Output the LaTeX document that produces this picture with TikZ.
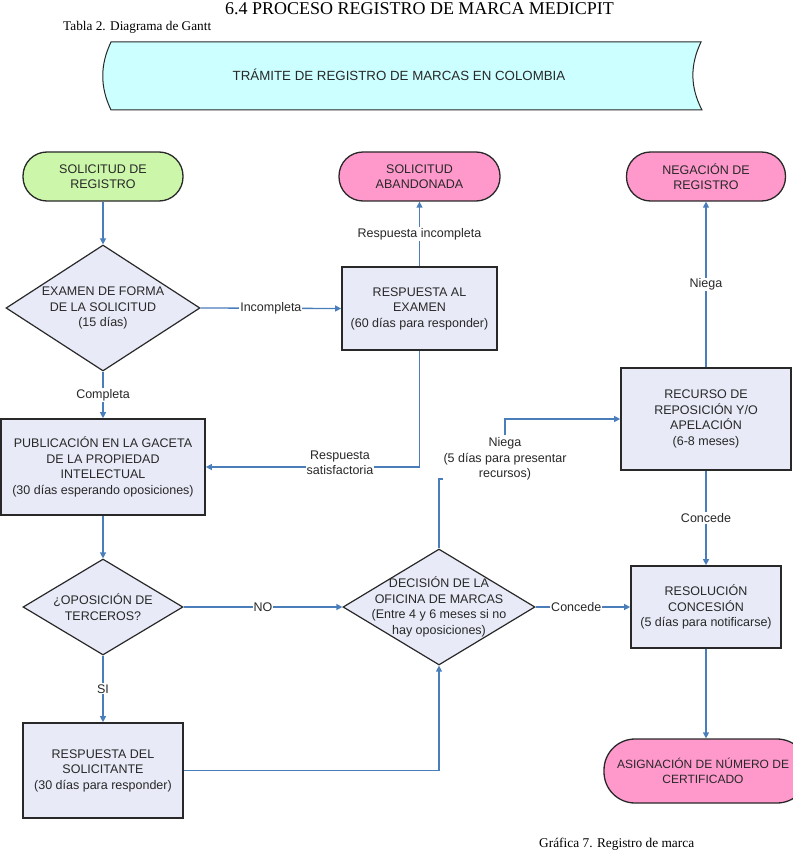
\documentclass[tikz,border=0pt]{standalone}
\usepackage{fontspec}
\setmainfont{Liberation Sans}
\newfontfamily\serifx{Liberation Serif}
\usetikzlibrary{shapes.geometric,arrows.meta}
\definecolor{linec}{RGB}{74,126,187}
\definecolor{bord}{RGB}{40,40,40}
\definecolor{boxc}{RGB}{232,235,247}
\definecolor{greenc}{RGB}{204,247,170}
\definecolor{pinkc}{RGB}{255,153,204}
\definecolor{bannerc}{RGB}{204,255,255}
\definecolor{txtc}{RGB}{40,40,40}
\begin{document}
\begin{tikzpicture}[x=1pt,y=-1pt,
  txt/.style={font=\fontsize{12.5}{15.5}\selectfont, text=txtc, align=center},
  term/.style={txt, draw=bord, line width=1.3pt, rounded corners=24pt, minimum width=160pt, minimum height=49pt, inner sep=0pt},
  boxn/.style={txt, draw=bord, line width=1.7pt, fill=boxc, inner sep=0pt},
  dia/.style={diamond, draw=bord, line width=1.2pt, fill=boxc, inner sep=0pt},
  conn/.style={draw=linec, line width=1.3pt},
  arr/.style={conn, -{Triangle[width=6pt,length=6pt]}},
  elbl/.style={txt, fill=white, inner sep=1pt}]
\useasboundingbox (0,0) rectangle (792,850);
% titles
\node[anchor=base, inner sep=0pt] (title) at (419.5,14.5) {\resizebox{389pt}{!}{\serifx\fontsize{18}{18}\selectfont 6.4 PROCESO REGISTRO DE MARCA MEDICPIT}};
\node[anchor=base west, inner sep=0pt] (tabla) at (63,31) {\resizebox{148pt}{!}{\serifx\fontsize{13}{13}\selectfont Tabla 2. Diagrama de Gantt}};
\node[anchor=base west, inner sep=0pt] (grafica) at (539,847) {\resizebox{155pt}{!}{\serifx\fontsize{13.4}{13.4}\selectfont Gráfica 7. Registro de marca}};
% banner
\path[draw=bord, fill=bannerc, line width=1pt] (111,42) -- (701,42) .. controls (690,65) and (690,87) .. (702,110) -- (111,110) .. controls (100,87) and (100,65) .. (111,42) -- cycle;
\node[txt, font=\fontsize{13.3}{15}\selectfont] (banner) at (399,75) {TRÁMITE DE REGISTRO DE MARCAS EN COLOMBIA};
% terminals
\node[term, fill=greenc] (sr) at (103,176.5) {SOLICITUD DE\\REGISTRO};
\node[term, fill=pinkc, minimum width=161pt] (sa) at (419.5,176.5) {SOLICITUD\\ABANDONADA};
\node[term, fill=pinkc, minimum width=159pt] (nr) at (706,176.5) {NEGACIÓN DE\\REGISTRO};
\node[term, fill=pinkc, minimum width=204pt, minimum height=64pt, rounded corners=31pt] (asg) at (706,771) {};
\node[txt, font=\fontsize{12}{15.5}\selectfont] (asgt) at (703,771) {ASIGNACIÓN DE NÚMERO DE\\CERTIFICADO};
% diamonds
\node[dia, minimum width=194pt, minimum height=126pt] (ex) at (103,308) {};
\node[txt] (ext) at (ex.center) {EXAMEN DE FORMA\\DE LA SOLICITUD\\(15 días)};
\node[dia, minimum width=160pt, minimum height=96pt] (op) at (103,607) {};
\node[txt] (opt) at (op.center) {¿OPOSICIÓN DE\\TERCEROS?};
\node[dia, minimum width=192pt, minimum height=116pt] (dec) at (439,607) {};
\node[txt] (dect) at (dec.center) {DECISIÓN DE LA\\OFICINA DE MARCAS\\(Entre 4 y 6 meses si no\\hay oposiciones)};
% boxes
\node[boxn, minimum width=155pt, minimum height=83pt] (rae) at (419.5,308.5) {RESPUESTA AL\\EXAMEN\\(60 días para responder)};
\node[boxn, minimum width=204pt, minimum height=96pt] (pub) at (103,467) {PUBLICACIÓN EN LA GACETA\\DE LA PROPIEDAD\\INTELECTUAL\\(30 días esperando oposiciones)};
\node[boxn, minimum width=170pt, minimum height=102pt] (rec) at (706,419) {RECURSO DE\\REPOSICIÓN Y/O\\APELACIÓN\\(6-8 meses)};
\node[boxn, minimum width=150pt, minimum height=82pt] (res) at (706,607) {RESOLUCIÓN\\CONCESIÓN\\(5 días para notificarse)};
\node[boxn, minimum width=160pt, minimum height=95pt] (rds) at (103,770.5) {RESPUESTA DEL\\SOLICITANTE\\(30 días para responder)};
% connectors
\draw[arr] (sr) -- (ex);
\draw[arr] (ex.east) -- node[elbl] (l1) {Incompleta} (rae.west);
\draw[arr] (rae.north) -- node[elbl] (l2) {Respuesta incompleta} (sa.south);
\draw[arr] (rae.south) |- (pub.east);
\node[elbl] (l3) at (340,463) {Respuesta\\satisfactoria};
\draw[arr] (ex.south) -- node[elbl] (l4) {Completa} (pub.north);
\draw[arr] (pub.south) -- (op.north);
\draw[arr] (op.east) -- node[elbl] (l5) {NO} (dec.west);
\draw[arr] (op.south) -- node[elbl] (l6) {SI} (rds.north);
\draw[arr] (rds.east) -| (dec.south);
\draw[arr] (dec.east) -- node[elbl, pos=0.43] (l7) {Concede} (res.west);
\draw[arr] (dec.north) |- (505,479) |- (rec.west);
\node[elbl, inner ysep=3pt] (l8) at (505,459) {Niega\\(5 días para presentar\\recursos)};
\draw[arr] (rec.north) -- node[elbl] (l9) {Niega} (nr.south);
\draw[arr] (rec.south) -- node[elbl] (l10) {Concede} (res.north);
\draw[arr] (res.south) -- (asg.north);
\end{tikzpicture}
\end{document}
